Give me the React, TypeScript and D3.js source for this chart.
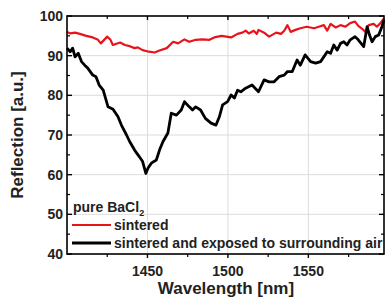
import * as d3 from 'd3'

// sintered (red)
const redWl = [1400, 1402, 1405, 1408, 1412, 1416, 1419, 1421, 1425, 1427, 1428.5, 1433, 1436, 1439, 1442, 1444, 1447, 1451, 1454.5, 1457.5, 1462, 1466, 1469, 1473, 1476, 1480, 1484, 1488.5, 1491.5, 1496, 1499, 1502, 1506, 1509, 1511, 1513, 1516, 1518, 1519, 1522.5, 1525.6, 1530, 1533, 1535, 1537, 1539, 1542, 1545, 1549, 1553.5, 1556.5, 1559.6, 1561.7, 1563.8, 1567, 1570, 1573, 1576, 1579, 1581, 1583, 1585.5, 1587.5, 1590.6, 1592.6, 1594.7, 1597]
const redVal = [96.0, 95.6, 95.8, 95.5, 95.0, 94.6, 94.1, 93.1, 94.8, 94.0, 92.7, 93.3, 92.7, 92.4, 91.9, 92.1, 91.4, 91.0, 90.8, 91.3, 91.9, 93.5, 93.1, 94.1, 93.5, 94.0, 94.1, 94.0, 94.6, 95.0, 94.8, 94.6, 95.5, 95.8, 96.3, 95.6, 96.3, 95.5, 96.5, 95.8, 94.8, 95.8, 95.5, 96.3, 97.7, 96.0, 96.5, 96.9, 97.3, 96.9, 97.3, 97.7, 96.3, 98.0, 97.1, 97.7, 97.3, 98.2, 98.6, 97.5, 96.9, 96.0, 97.7, 98.0, 97.3, 98.2, 99.4]

// sintered and exposed to surrounding air (black)
const blackWl = [1400, 1402, 1403.5, 1405, 1407, 1409, 1411, 1413, 1416, 1418, 1420, 1422.5, 1425.5, 1428.6, 1431.7, 1433.8, 1437, 1439, 1442, 1445, 1447, 1449, 1450.3, 1452.4, 1455.5, 1457.5, 1459.6, 1462.7, 1464.8, 1468, 1471, 1473, 1476, 1478, 1480, 1483, 1486, 1489.5, 1492.6, 1494.7, 1496.7, 1499.8, 1502, 1504, 1506, 1508, 1511, 1515, 1519, 1522.5, 1525.6, 1528.7, 1531.8, 1535, 1537, 1540, 1543, 1545, 1548, 1551.4, 1554.5, 1557.6, 1559.6, 1561.7, 1563.8, 1565.8, 1567.9, 1570, 1572, 1574, 1576, 1579, 1581, 1584.4, 1586.5, 1588, 1589.6, 1591.6, 1593.7, 1595.7, 1597]
const blackVal = [91.9, 91.0, 91.9, 89.7, 90.6, 88.5, 87.6, 86.8, 85.1, 84.7, 82.6, 81.3, 77.1, 76.5, 74.6, 72.5, 70.0, 68.3, 66.2, 64.5, 63.3, 60.3, 61.6, 62.9, 63.7, 66.2, 68.3, 70.5, 75.5, 75.0, 76.3, 78.4, 77.1, 76.3, 77.1, 76.3, 74.2, 73.0, 72.5, 74.6, 77.6, 78.4, 80.1, 79.3, 81.3, 80.9, 81.8, 82.6, 80.9, 83.9, 83.4, 83.4, 84.7, 85.1, 86.0, 86.0, 88.9, 87.6, 90.2, 88.5, 88.1, 88.5, 89.7, 91.0, 90.6, 92.7, 91.4, 93.1, 93.5, 92.7, 94.0, 94.8, 94.0, 92.3, 97.3, 95.2, 93.5, 94.8, 95.2, 97.3, 99.0]

const xMajor = [1450, 1500, 1550]
const xMinor = [1425, 1475, 1525, 1575]
const yMajor = [40, 50, 60, 70, 80, 90, 100]
const yMinor = [45, 55, 65, 75, 85, 95]

const W = 385
const H = 303
const left = 67
const right = 384
const top = 16
const bottom = 254

export default function App() {
  const x = d3.scaleLinear().domain([1400, 1597]).range([left, right])
  const y = d3.scaleLinear().domain([40, 100]).range([bottom, top])

  const line = d3.line<[number, number]>()
    .x(d => x(d[0]))
    .y(d => y(d[1]))
    .curve(d3.curveLinear)

  const redPath = line(redWl.map((w, i) => [w, redVal[i]]))
  const blackPath = line(blackWl.map((w, i) => [w, blackVal[i]]))

  const font = 'Liberation Sans, Arial, sans-serif'

  return (
    <svg width={W} height={H} style={{ position: 'absolute', left: 0, top: 0, background: '#fff' }} fontFamily={font}>
      {/* grid */}
      {xMajor.map(v => (
        <line key={'gx' + v} x1={x(v)} x2={x(v)} y1={top} y2={bottom} stroke="#dcdcdc" strokeWidth={1} />
      ))}
      {yMajor.filter(v => v > 40 && v < 100).map(v => (
        <line key={'gy' + v} x1={left} x2={right} y1={y(v)} y2={y(v)} stroke="#dcdcdc" strokeWidth={1} />
      ))}

      {/* data */}
      <path d={redPath ?? ''} fill="none" stroke="#e8141c" strokeWidth={2.2} strokeLinejoin="round" />
      <path d={blackPath ?? ''} fill="none" stroke="#000" strokeWidth={2.8} strokeLinejoin="round" />

      {/* frame */}
      <rect x={left} y={top} width={right - left} height={bottom - top} fill="none" stroke="#000" strokeWidth={1.6} />

      {/* x ticks */}
      {xMajor.map(v => (
        <g key={'tx' + v}>
          <line x1={x(v)} x2={x(v)} y1={bottom} y2={bottom + 4} stroke="#000" strokeWidth={1.4} />
          <line x1={x(v)} x2={x(v)} y1={top} y2={top + 4} stroke="#000" strokeWidth={1.4} />
          <text x={x(v)} y={276} textAnchor="middle" fontSize={14} fontWeight="bold" fill="#222">{v}</text>
        </g>
      ))}
      {xMinor.map(v => (
        <g key={'mx' + v}>
          <line x1={x(v)} x2={x(v)} y1={bottom} y2={bottom + 3} stroke="#000" strokeWidth={1.2} />
          <line x1={x(v)} x2={x(v)} y1={top} y2={top + 3} stroke="#000" strokeWidth={1.2} />
        </g>
      ))}

      {/* y ticks */}
      {yMajor.map(v => (
        <g key={'ty' + v}>
          <line x1={left} x2={left + 5} y1={y(v)} y2={y(v)} stroke="#000" strokeWidth={1.4} />
          <line x1={right} x2={right - 5} y1={y(v)} y2={y(v)} stroke="#000" strokeWidth={1.4} />
          <text x={left - 4} y={y(v) + 5} textAnchor="end" fontSize={14} fontWeight="bold" fill="#222">{v}</text>
        </g>
      ))}
      {yMinor.map(v => (
        <g key={'my' + v}>
          <line x1={left} x2={left + 3} y1={y(v)} y2={y(v)} stroke="#000" strokeWidth={1.2} />
          <line x1={right} x2={right - 3} y1={y(v)} y2={y(v)} stroke="#000" strokeWidth={1.2} />
        </g>
      ))}

      {/* axis titles */}
      <text x={226} y={294} textAnchor="middle" fontSize={17} fontWeight="bold" fill="#222">Wavelength [nm]</text>
      <text transform={`translate(23,${(top + bottom) / 2}) rotate(-90)`} textAnchor="middle" fontSize={17} fontWeight="bold" fill="#222">Reflection [a.u.]</text>

      {/* legend */}
      <text x={73} y={212} fontSize={14} fontWeight="bold" fill="#222">
        pure BaCl<tspan fontSize={9} dy={4}>2</tspan>
      </text>
      <line x1={72} x2={111} y1={225} y2={225} stroke="#e8141c" strokeWidth={2.2} />
      <text x={114} y={230} fontSize={14} fontWeight="bold" fill="#222">sintered</text>
      <line x1={72} x2={111} y1={243} y2={243} stroke="#000" strokeWidth={2.8} />
      <text x={114} y={248} fontSize={14} fontWeight="bold" fill="#222">sintered and exposed to surrounding air</text>
    </svg>
  )
}
